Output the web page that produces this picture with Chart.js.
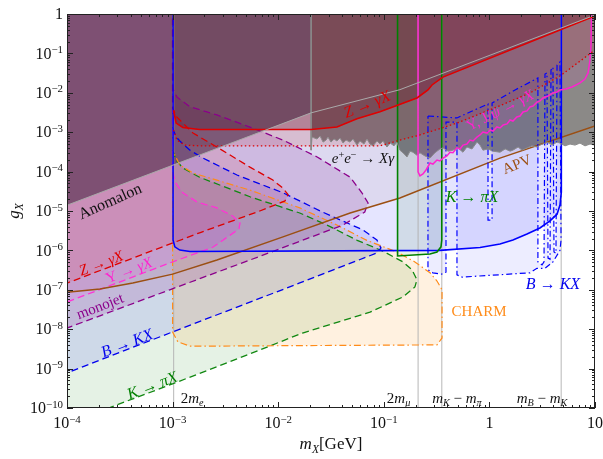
<!DOCTYPE html>
<html>
<head>
<meta charset="utf-8">
<script src="https://cdn.jsdelivr.net/npm/chart.js@4.4.1/dist/chart.umd.min.js"></script>
<style>
  html, body { margin: 0; padding: 0; background: #fff; }
  #wrap { width: 603px; height: 459px; }
  canvas { display: block; }
</style>
</head>
<body>
<div id="wrap"><canvas id="c" width="603" height="459"></canvas></div>
<script>
// ---- axes ----
const xRange = [1e-4, 10];
const yRange = [1e-10, 1];
const xTickPowers = [-4, -3, -2, -1, 0, 1];
const yTickPowers = [0, -1, -2, -3, -4, -5, -6, -7, -8, -9, -10];

// ---- limits on g_X, as [m_X (GeV), g_X] ----
const anomalonEdge = [[1e-4,1.4e-5],[2.05e-2,3.1e-3],[0.142,1.2e-2],[10,0.94]];
// shaded only up to the e+e- bound, the line runs on
const anomalonClose = [[0.142,1.2e-2],[2.05e-2,3.1e-3],[2.05e-2,10],[5e-5,10],[5e-5,7e-6]];

const zSolidEdge = [[1.02e-3,3.6e-3],[1.08e-3,1.7e-3],[1.25e-3,1.32e-3],[1.8e-3,1.17e-3],
  [2.05e-2,1.17e-3],[3.6e-2,1.35e-3],[5.57e-2,2.2e-3],[9.2e-2,3.3e-3],[0.206,7.4e-3],[0.262,1.18e-2],
  [0.286,1.58e-2],[0.363,2.5e-2],[10,0.89]];
const zSolidClose = [[20,1.8],[20,10],[1.02e-3,10]];

const zDottedEdge = [[1.02e-3,1.14e-3],[1.1e-3,6.3e-4],[1.31e-3,4.7e-4],[1.8e-3,4.5e-4],[9.2e-2,4.5e-4],
  [0.142,6.3e-4],[0.22,8.5e-4],[0.493,1.71e-3],[1.18,4.37e-3],[2.42,9.9e-3],[4.66,2.67e-2],[10,0.122]];
const zDottedClose = [[20,0.5],[20,10],[1.02e-3,10]];

const upsJpsiEdge = [[0.211,10],[0.211,9.8e-5],[0.22,7.8e-5],[0.235,8.7e-5],[0.251,1.1e-4],[0.274,1.65e-4],
  [0.292,1.55e-4],[0.319,1.96e-4],[0.34,1.86e-4],[0.364,2.2e-4],[0.396,2.5e-4],[0.423,3.1e-4],[0.452,3.0e-4],
  [0.493,4.0e-4],[0.527,3.75e-4],[0.562,4.7e-4],[0.613,5.0e-4],[0.655,6.3e-4],[0.70,6.0e-4],[0.763,7.55e-4],
  [0.815,8.5e-4],[0.869,1.01e-3],[0.948,9.5e-4],[1.02,1.14e-3],[1.08,1.07e-3],[1.18,1.36e-3],[1.26,1.28e-3],
  [1.35,1.52e-3],[1.47,1.62e-3],[1.57,2.04e-3],[1.67,1.92e-3],[1.82,2.43e-3],[1.95,2.57e-3],[2.08,3.26e-3],
  [2.27,3.46e-3],[2.42,4.37e-3],[2.59,4.6e-3],[2.82,5.8e-3],[3.01,6.2e-3],[3.22,7.4e-3],[3.59,8.3e-3],
  [4.0,9.9e-3],[4.37,1.05e-2],[4.66,1.18e-2],[5.3,1.25e-2],[6.05,1.4e-2],[7.21,1.78e-2],[8.04,2.24e-2],
  [8.6,3.2e-2],[8.97,6.8e-2],[9.17,0.163],[9.38,10]];

const eeGammaEdge = [[2.05e-2,10],[2.05e-2,3.5e-4],[2.09e-2,7.5e-4],[2.33e-2,6.7e-4],[2.49e-2,8e-4],[2.66e-2,5.6e-4],
  [2.84e-2,6.3e-4],[2.96e-2,7.5e-4],[3.16e-2,5.6e-4],[3.38e-2,6.7e-4],[3.6e-2,6.0e-4],[3.85e-2,7.1e-4],
  [4.11e-2,5.3e-4],[4.39e-2,6.3e-4],[4.79e-2,5.6e-4],[5.11e-2,6.7e-4],[5.57e-2,4.7e-4],[5.95e-2,6.0e-4],
  [6.49e-2,5.0e-4],[6.93e-2,6.7e-4],[7.4e-2,5.0e-4],[7.9e-2,4.5e-4],[8.63e-2,6.0e-4],[9.21e-2,5.0e-4],
  [9.83e-2,6.0e-4],[0.107,4.2e-4],[0.115,5.3e-4],[0.125,4.5e-4],[0.133,5.6e-4],[0.142,3.5e-4],[0.152,3.0e-4],
  [0.166,2.35e-4],[0.177,3.3e-4],[0.189,3.1e-4],[0.206,2.6e-4],[0.22,3.0e-4],[0.245,2.5e-4],[0.274,2.2e-4],
  [0.305,3.0e-4],[0.34,3.75e-4],[0.364,4.0e-4],[0.406,3.3e-4],[0.452,3.5e-4],[0.504,4.0e-4],[0.562,3.1e-4],
  [0.613,4.2e-4],[0.684,3.75e-4],[0.763,5.6e-4],[0.815,4.7e-4],[0.869,3.5e-4],[0.97,3.75e-4],[1.08,3.3e-4],
  [1.26,3.1e-4],[1.41,3.75e-4],[1.57,3.3e-4],[1.67,3.5e-4],[1.87,4.2e-4],[2.04,3.5e-4],[2.27,4.0e-4],
  [2.53,4.5e-4],[2.82,4.2e-4],[3.01,4.7e-4],[3.36,5.3e-4],[3.51,5.6e-4],[3.92,4.7e-4],[4.37,5.6e-4],
  [4.66,5.3e-4],[5.2,4.5e-4],[5.8,5.0e-4],[6.47,4.7e-4],[7.21,5.3e-4],[8.04,4.5e-4],[8.97,5.0e-4],[10,4.7e-4]];
const eeGammaClose = [[20,4.7e-4],[20,10],[2.05e-2,10]];

const kPiSolidEdge = [[0.135,10],[0.135,7.2e-7],[0.274,8.1e-7],[0.319,9.1e-7],[0.348,1.23e-6],[0.354,1.83e-6],[0.354,10]];

const bKSolidEdge = [[1.01e-3,10],[1.01e-3,1.83e-6],[1.05e-3,1.23e-6],[1.17e-3,1.02e-6],[1.46e-3,9.4e-7],[0.34,1.0e-6],
  [0.815,1.18e-6],[1.26,1.45e-6],[1.67,1.83e-6],[2.27,2.6e-6],[3.01,3.7e-6],[3.75,5.6e-6],[4.37,8.3e-6],
  [4.66,1.42e-5],[4.8,3.0e-5],[4.8,10]];

const bKDisplacedEdge = [[0.262,2.58e-3],[0.493,2.3e-3],[0.655,3.26e-3],[0.97,5.2e-3],[0.97,5.9e-6],[1.06,5.9e-6],
  [1.06,5.5e-3],[1.75,1.18e-2],[2.88,2.38e-2],[2.88,5.1e-7],[3.15,4.3e-7],[3.29,5.1e-7],[3.36,3.0e-2],
  [3.51,3.2e-2],[3.59,6.4e-7],[3.75,6.0e-7],[3.83,3.8e-2],[4.0,4.5e-2],[4.09,9.1e-7],[4.27,8.5e-7],
  [4.37,5.1e-2],[4.66,6.1e-2],[4.77,1.83e-6],[4.66,1.0e-6],[4.0,5.1e-7],[3.36,3.5e-7],[2.82,3.5e-7],
  [2.42,2.7e-7],[0.551,2.1e-7],[0.493,2.4e-7],[0.493,1.8e-3],[0.388,1.8e-3],[0.388,2.8e-7],[0.354,2.5e-7],
  [0.292,2.7e-7],[0.262,3.2e-7],[0.262,2.58e-3]];

const apvEdge = [[1e-4,8.7e-8],[2.05e-4,1.05e-7],[4.2e-4,1.48e-7],[1e-3,2.5e-7],[2.63e-3,5.7e-7],[1.11e-2,2.2e-6],
  [4.8e-2,8.9e-6],[0.142,2.14e-5],[1.26,2.2e-4],[10,1.44e-3]];
const apvClose = [[20,2.9e-3],[20,10],[5e-5,10],[5e-5,8e-8]];

const zDashedEdge = [[1e-4,1],[1e-3,1],[1e-3,4.1e-3],[1.1e-3,2.4e-3],[1.56e-3,9.5e-4],[2.63e-3,4.2e-4],[5.4e-3,1.3e-4],
  [8.9e-3,6.1e-5],[1.11e-2,3.8e-5],[1.24e-2,2.6e-5],[1.16e-2,1.8e-5],[6.7e-3,1.0e-5],[1.8e-3,2.8e-6],[1e-4,1.48e-7]];

const upsDashedEdge = [[1e-4,1],[1e-3,1],[1e-3,1.1e-4],[1.05e-3,5.5e-5],[1.25e-3,2.9e-5],[1.7e-3,1.7e-5],[2.63e-3,1.2e-5],
  [3.7e-3,7.5e-6],[4.35e-3,5.0e-6],[4.25e-3,3.5e-6],[2.4e-3,1.2e-6],[9.4e-4,4.8e-7],[1e-4,4.9e-8]];

const monojetEdge = [[1e-4,1],[1e-3,1],[1e-3,1.32e-2],[1.1e-3,7.8e-3],[1.46e-3,4.4e-3],[2.63e-3,2.74e-3],[5.4e-3,1.35e-3],
  [1.11e-2,6.3e-4],[2.34e-2,2.35e-4],[4.8e-2,7.2e-5],[6.2e-2,2.9e-5],[7.1e-2,1.6e-5],[6.6e-2,9.4e-6],
  [4.1e-2,4.4e-6],[5.4e-3,5.7e-7],[9.4e-4,1.0e-7],[1e-4,1.07e-8]];

const charmEdge = [[1e-3,1],[1e-3,4e-4],[1.05e-3,2.6e-4],[1.17e-3,1.47e-4],[1.56e-3,9.2e-5],[5.4e-3,3.4e-5],[1.6e-2,1.2e-5],
  [3.6e-2,4.4e-6],[6.9e-2,1.8e-6],[0.133,9.1e-7],[0.197,5.1e-7],[0.274,2.7e-7],[0.319,1.67e-7],[0.356,1.0e-7],
  [0.356,6e-9],[0.319,4e-9],[1.46e-3,3.7e-9],[1.12e-3,4.8e-9],[1e-3,8.5e-9],[1e-3,1]];

const bKDashedEdge = [[1e-4,1],[1e-3,1],[1e-3,1.28e-3],[1.08e-3,7.6e-4],[1.17e-3,6.0e-4],[1.46e-3,3.5e-4],[1.94e-3,2.2e-4],
  [4.07e-3,8.2e-5],[1.11e-2,2.9e-5],[2.65e-2,9.3e-6],[6.35e-2,3.3e-6],[8.6e-2,1.83e-6],[9.4e-2,1.15e-6],
  [8.6e-2,8.6e-7],[1.6e-2,1.49e-7],[9.4e-4,8e-9],[1e-4,7.8e-10]];

const kPiDashedEdge = [[1e-4,1],[1e-3,1],[1e-3,3.5e-4],[1.08e-3,1.96e-4],[1.25e-3,1.23e-4],[1.8e-3,7.2e-5],[5.4e-3,2.3e-5],
  [1.6e-2,8.9e-6],[2.9e-2,4.4e-6],[5.6e-2,1.8e-6],[9.8e-2,9.6e-7],[0.152,5.1e-7],[0.185,3.2e-7],[0.206,1.8e-7],
  [0.197,1.18e-7],[0.152,6.6e-8],[7.4e-2,2.7e-8],[1.7e-2,8e-9],[4.3e-3,1.86e-9],[1e-3,4.1e-10],[1e-4,4e-11]];

// kinematic thresholds (GeV)
const thresholds = [1.022e-3, 0.2113, 0.3539, 4.786];

// ---- text ----
const FONT = '"Liberation Serif","DejaVu Serif","Times New Roman",serif';
const annotations = [
  { runs: [['Anomalon','']], x: 2.55e-4, y: 1.8e-5, rot: -24, color: '#111', size: 16 },
  { runs: [['Z','i'],[' \u2192 ',''],['\u03b3X','i']], x: 0.0693, y: 5.2e-3, rot: -22, color: '#e00000', size: 16 },
  { runs: [['e','i'],['+','S'],['e','i'],['\u2212','S'],[' \u2192 ',''],['X\u03b3','i']], x: 0.0635, y: 2.2e-4, rot: 0, color: '#111', size: 15 },
  { runs: [['\u03a5, J/',''],['\u03c8','i'],[' \u2192 ',''],['\u03b3X','i']], x: 1.26, y: 3.66e-3, rot: -27, color: '#ff22d0', size: 15 },
  { runs: [['APV','']], x: 1.82, y: 1.56e-4, rot: -22, color: '#9b4f13', size: 15 },
  { runs: [['K','i'],[' \u2192 ',''],['\u03c0X','i']], x: 0.684, y: 2.26e-5, rot: 0, color: '#008000', size: 16 },
  { runs: [['B','i'],[' \u2192 ',''],['KX','i']], x: 4.0, y: 1.4e-7, rot: 0, color: '#0000ee', size: 16 },
  { runs: [['CHARM','']], x: 0.798, y: 2.9e-8, rot: 0, color: '#ff8c1a', size: 15 },
  { runs: [['Z','i'],[' \u2192 ',''],['\u03b3X','i']], x: 2.1e-4, y: 4.8e-7, rot: -21, color: '#e00000', size: 15 },
  { runs: [['\u03a5',''],[' \u2192 ',''],['\u03b3X','i']], x: 3.86e-4, y: 3.2e-7, rot: -21, color: '#ff22d0', size: 15 },
  { runs: [['monojet','']], x: 2.05e-4, y: 3.9e-8, rot: -21, color: '#8b008b', size: 15 },
  { runs: [['B','i'],[' \u2192 ',''],['KX','i']], x: 3.7e-4, y: 4.5e-9, rot: -21, color: '#0000ee', size: 16 },
  { runs: [['K','i'],[' \u2192 ',''],['\u03c0X','i']], x: 6.4e-4, y: 3.8e-10, rot: -21, color: '#008000', size: 16 },
  { runs: [['2',''],['m','i'],['e','is']], x: 1.53e-3, y: 1.8e-10, rot: 0, color: '#111', size: 15 },
  { runs: [['2',''],['m','i'],['\u03bc','is']], x: 0.138, y: 1.8e-10, rot: 0, color: '#111', size: 15 },
  { runs: [['m','i'],['K','is'],[' \u2212 ',''],['m','i'],['\u03c0','is']], x: 0.493, y: 1.8e-10, rot: 0, color: '#111', size: 15 },
  { runs: [['m','i'],['B','is'],[' \u2212 ',''],['m','i'],['K','is']], x: 3.15, y: 1.8e-10, rot: 0, color: '#111', size: 15 }
];

function drawRich(ctx, runs, px, py, size, color, rot, align) {
  const parts = runs.map(([t, f]) => {
    const small = f.includes('S') || f.includes('s');
    const fs = small ? size * 0.68 : size;
    const font = (f.includes('i') ? 'italic ' : '') + fs + 'px ' + FONT;
    ctx.font = font;
    const dy = f.includes('S') ? -size * 0.36 : (f.includes('s') ? size * 0.24 : 0);
    return { t, font, w: ctx.measureText(t).width, dy };
  });
  const total = parts.reduce((a, p) => a + p.w, 0);
  ctx.save();
  ctx.translate(px, py);
  ctx.rotate(rot * Math.PI / 180);
  ctx.fillStyle = color;
  ctx.textBaseline = 'alphabetic';
  let cx = align === 'right' ? -total : (align === 'left' ? 0 : -total / 2);
  const base = size * 0.33;
  for (const p of parts) {
    ctx.font = p.font;
    ctx.fillText(p.t, cx, base + p.dy);
    cx += p.w;
  }
  ctx.restore();
}

// ---- datasets ----
function region(edge, close, style) {
  const n = edge.length;
  const pts = edge.concat(close || []).map(([x, y]) => ({ x, y }));
  return Object.assign({
    data: pts, showLine: true, fill: false, tension: 0,
    pointRadius: 0, pointHoverRadius: 0, borderWidth: 1.3,
    segment: { borderColor: c => (c.p1DataIndex >= n ? 'rgba(0,0,0,0)' : undefined) }
  }, style);
}

const DASH = [7, 4];
const datasets = [
  region(anomalonEdge, anomalonClose, { borderColor: '#a9a9a9', borderWidth: 1, area: 'rgba(62,30,56,0.55)' }),
  region(zSolidEdge, zSolidClose, { borderColor: '#e00000', borderWidth: 1.6, area: 'rgba(100,0,20,0.30)' }),
  region(zDottedEdge, zDottedClose, { borderColor: '#dd0000', borderDash: [1.5, 2.5], borderWidth: 1.3, area: 'rgba(180,0,0,0.13)' }),
  region(upsJpsiEdge, null, { borderColor: '#ff22d0', borderWidth: 1.5, area: 'rgba(255,0,200,0.08)' }),
  region(eeGammaEdge, eeGammaClose, { borderColor: '#8a8a8a', borderWidth: 1, area: 'rgba(40,40,40,0.52)' }),
  region(kPiSolidEdge, null, { borderColor: '#008000', borderWidth: 1.6, area: 'rgba(0,110,0,0.09)' }),
  region(bKDisplacedEdge, null, { borderColor: '#0000ff', borderDash: [6, 3, 1.5, 3], borderWidth: 1.2, area: 'rgba(0,0,255,0.07)' }),
  region(bKSolidEdge, null, { borderColor: '#0000ff', borderWidth: 1.6, area: 'rgba(0,0,255,0.10)' }),
  region(apvEdge, apvClose, { borderColor: '#9b4f13', borderWidth: 1.5, area: 'rgba(140,70,30,0.07)' }),
  region(zDashedEdge, null, { borderColor: '#dd0000', borderDash: DASH, area: 'rgba(255,0,0,0.11)' }),
  region(upsDashedEdge, null, { borderColor: '#ff33d6', borderDash: DASH, area: 'rgba(255,0,255,0.10)' }),
  region(monojetEdge, null, { borderColor: '#8b008b', borderDash: DASH, area: 'rgba(128,0,128,0.15)' }),
  region(charmEdge, null, { borderColor: '#ff8c1a', borderDash: [7, 3, 1.5, 3], borderWidth: 1.2, area: 'rgba(255,140,0,0.12)' }),
  region(bKDashedEdge, null, { borderColor: '#0000ee', borderDash: DASH, area: 'rgba(0,0,255,0.10)' }),
  region(kPiDashedEdge, null, { borderColor: '#118811', borderDash: DASH, area: 'rgba(0,128,0,0.10)' })
];
thresholds.forEach(m => datasets.push(region([[m, yRange[0]], [m, yRange[1]]], null,
  { borderColor: 'rgba(175,175,175,0.75)', borderWidth: 1.2 })));

// translucent areas, painted under all boundary lines
const areaFill = {
  id: 'areaFill',
  beforeDatasetsDraw(chart) {
    const { ctx, chartArea: a } = chart;
    const ds = chart.data.datasets;
    ctx.save();
    ctx.beginPath();
    ctx.rect(a.left, a.top, a.right - a.left, a.bottom - a.top);
    ctx.clip();
    for (let i = ds.length - 1; i >= 0; i--) {
      if (!ds[i].area) continue;
      const pts = chart.getDatasetMeta(i).data;
      ctx.beginPath();
      pts.forEach((p, k) => (k ? ctx.lineTo(p.x, p.y) : ctx.moveTo(p.x, p.y)));
      ctx.closePath();
      ctx.fillStyle = ds[i].area;
      ctx.fill();
    }
    ctx.restore();
  }
};

const labelsPlugin = {
  id: 'labels',
  afterDatasetsDraw(chart) {
    const { ctx, chartArea: a, scales: { x, y } } = chart;
    ctx.save();
    ctx.beginPath();
    ctx.rect(a.left, a.top, a.right - a.left, a.bottom - a.top);
    ctx.clip();
    for (const t of annotations) {
      drawRich(ctx, t.runs, x.getPixelForValue(t.x), y.getPixelForValue(t.y), t.size, t.color, t.rot, 'center');
    }
    ctx.restore();
  }
};

const framePlugin = {
  id: 'frame',
  afterDraw(chart) {
    const { ctx, chartArea: a, scales: { x, y } } = chart;
    ctx.save();
    ctx.strokeStyle = '#222';
    ctx.lineWidth = 1;
    ctx.strokeRect(a.left + 0.5, a.top + 0.5, a.right - a.left - 1, a.bottom - a.top - 1);
    ctx.beginPath();
    const xPow = xTickPowers;
    for (let i = 0; i < xPow.length; i++) {
      for (let k = 1; k <= 9; k++) {
        if (i === xPow.length - 1 && k > 1) break;
        const px = Math.round(x.getPixelForValue(k * Math.pow(10, xPow[i]))) + 0.5;
        const len = k === 1 ? 6 : 3;
        ctx.moveTo(px, a.bottom); ctx.lineTo(px, a.bottom - len);
        ctx.moveTo(px, a.top); ctx.lineTo(px, a.top + len);
      }
    }
    const yPow = yTickPowers.slice().reverse();
    for (let i = 0; i < yPow.length; i++) {
      for (let k = 1; k <= 9; k++) {
        if (i === yPow.length - 1 && k > 1) break;
        const py = Math.round(y.getPixelForValue(k * Math.pow(10, yPow[i]))) + 0.5;
        const len = k === 1 ? 6 : 3;
        ctx.moveTo(a.left, py); ctx.lineTo(a.left + len, py);
        ctx.moveTo(a.right, py); ctx.lineTo(a.right - len, py);
      }
    }
    ctx.stroke();

    // tick labels
    const powRuns = p => (p === 0 ? [['1', '']] : p === 1 ? [['10', '']] : [['10', ''], ['\u2212' + (-p), 'S']]);
    for (const p of xTickPowers) {
      drawRich(ctx, powRuns(p), x.getPixelForValue(Math.pow(10, p)), a.bottom + 15, 16, '#111', 0, 'center');
    }
    for (const p of yTickPowers) {
      drawRich(ctx, powRuns(p), a.left - 4, y.getPixelForValue(Math.pow(10, p)), 16, '#111', 0, 'right');
    }
    // axis titles
    drawRich(ctx, [['m', 'i'], ['X', 'is'], ['[GeV]', '']], (a.left + a.right) / 2, a.bottom + 35, 17, '#111', 0, 'center');
    drawRich(ctx, [['g', 'i'], ['X', 'is']], 13, (a.top + a.bottom) / 2, 17, '#111', -90, 'center');
    ctx.restore();
  }
};

new Chart(document.getElementById('c'), {
  type: 'scatter',
  data: { datasets },
  options: {
    responsive: false,
    animation: false,
    devicePixelRatio: 1,
    events: [],
    layout: { padding: { left: 67, right: 8, top: 14, bottom: 51 } },
    scales: {
      x: { type: 'logarithmic', min: xRange[0], max: xRange[1], display: false },
      y: { type: 'logarithmic', min: yRange[0], max: yRange[1], display: false }
    },
    plugins: { legend: { display: false }, tooltip: { enabled: false } }
  },
  plugins: [areaFill, labelsPlugin, framePlugin]
});
</script>
</body>
</html>
